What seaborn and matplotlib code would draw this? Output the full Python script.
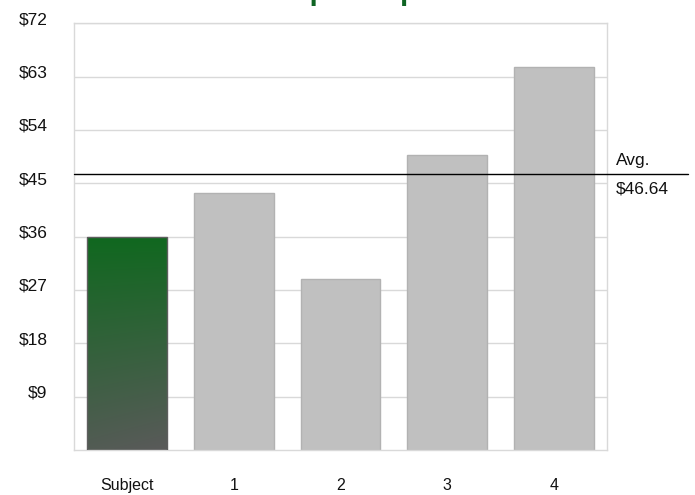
import numpy as np
import pandas as pd
import matplotlib
matplotlib.use("Agg")
import matplotlib.pyplot as plt
import seaborn as sns
from matplotlib import transforms
from matplotlib.colors import to_rgb

# ---- data ----
categories = ["Subject", "1", "2", "3", "4"]
values = [36.0, 43.3, 28.9, 49.76, 64.6]
y_ticks = [9, 18, 27, 36, 45, 54, 63, 72]
y_tick_labels = ["$9", "$18", "$27", "$36", "$45", "$54", "$63", "$72"]
avg_label = "Avg."
title_text = "Comp Comparison"

sns.set_theme(style="white")
plt.rcParams['font.family'] = ['Liberation Sans', 'DejaVu Sans']

fig = plt.figure(figsize=(6.95, 4.95), dpi=100)
ax = fig.add_axes([74 / 695, 45 / 495, 533 / 695, 426.7 / 495])

df = pd.DataFrame({"cat": categories, "val": values})
palette = ["#5a5a5a"] + ["#c0c0c0"] * (len(categories) - 1)
sns.barplot(data=df, x="cat", y="val", hue="cat", palette=palette,
            legend=False, width=0.75, saturation=1, ax=ax, zorder=2)

for i, p in enumerate(ax.patches):
    p.set_edgecolor("#5e5e5e" if i == 0 else "#b2b2b2")
    p.set_linewidth(1.0)

# gradient fill for the subject bar
p0 = ax.patches[0]
x0, w0, h0 = p0.get_x(), p0.get_width(), p0.get_height()
top = np.array(to_rgb("#10681f"))
bot = np.array(to_rgb("#5a5a5a"))
ny, nx = 200, 40
ty = np.linspace(0, 1, ny)[:, None]
tx = np.linspace(0, 1, nx)[None, :]
t = np.clip(ty * 0.9 + tx * 0.1 * ty, 0, 1)
img = top[None, None, :] + (bot - top)[None, None, :] * t[..., None]
im = ax.imshow(img, extent=[x0, x0 + w0, 0, h0], origin="upper",
               aspect="auto", zorder=2.5, interpolation="bilinear")
im.set_clip_path(p0)
p0.set_facecolor("none")
p0.set_zorder(3)

# average of the comparables
avg = float(np.mean(values[1:]))
ax.axhline(avg, xmin=0, xmax=(688 - 74) / 533, color="black", lw=1.0,
           clip_on=False, zorder=4)
trans = transforms.blended_transform_factory(ax.transAxes, ax.transData)
ax.annotate(avg_label, xy=(1.017, avg), xycoords=trans, xytext=(0, 9.4),
            textcoords="offset points", ha="left", va="center",
            fontsize=12.5, color="#111111", annotation_clip=False)
ax.annotate(f"${avg:.2f}", xy=(1.017, avg), xycoords=trans, xytext=(0, -10.8),
            textcoords="offset points", ha="left", va="center",
            fontsize=12.5, color="#111111", annotation_clip=False)

ax.set_xlim(-0.5, len(categories) - 0.5)
ax.set_ylim(0, 72)
ax.set_yticks(y_ticks)
ax.set_yticklabels(y_tick_labels)
ax.set_xlabel("")
ax.set_ylabel("")
ax.tick_params(axis="y", length=0, pad=19, labelsize=12.5, labelcolor="#111111")
ax.tick_params(axis="x", length=0, pad=20, labelsize=11.5, labelcolor="#111111")
off = transforms.ScaledTranslation(0, 3.6 / 72, fig.dpi_scale_trans)
for lab in ax.get_yticklabels():
    lab.set_transform(lab.get_transform() + off)

ax.yaxis.grid(True, color="#d9d9d9", lw=1.0, zorder=0)
ax.set_axisbelow(True)
for s in ax.spines.values():
    s.set_visible(True)
    s.set_color("#d9d9d9")
    s.set_linewidth(1.0)

# title (mostly above the visible canvas, as in the reference)
fig.text(245 / 695, 1.0, title_text, ha="left", va="baseline",
         fontsize=21, fontweight="bold", color="#0f6423")

fig.savefig("out.png", dpi=100)
